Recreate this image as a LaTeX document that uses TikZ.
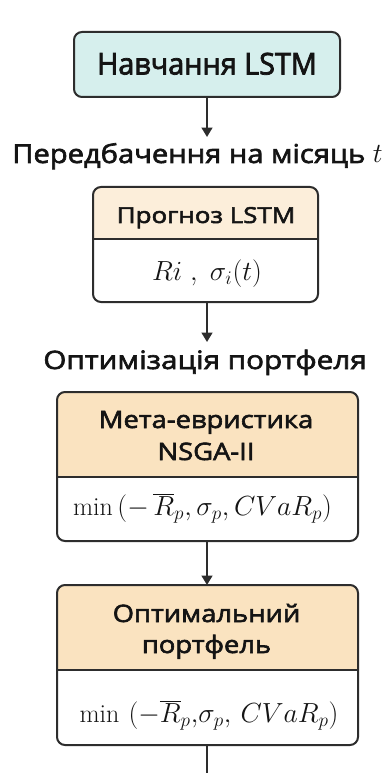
\documentclass[tikz,border=0pt]{standalone}
\usepackage{fontspec}
\usetikzlibrary{arrows.meta}
\newfontfamily\sansA[FakeStretch=0.96,FakeBold=2.5]{Open Sans}
\newfontfamily\sansB[FakeStretch=1.12,FakeBold=2.5]{Open Sans}
\newfontfamily\sansE[FakeStretch=1.17,FakeBold=2.5]{Open Sans}
\newfontfamily\sansC[FakeStretch=1.18,FakeBold=2.5]{Open Sans}
\newfontfamily\sansD[FakeStretch=1.14,FakeBold=2.5]{Open Sans}
\definecolor{cyanfill}{RGB}{214,239,237}
\definecolor{creamfill}{RGB}{252,238,218}
\definecolor{orangefill}{RGB}{250,227,192}
\definecolor{edgecol}{RGB}{45,45,45}
\definecolor{txt}{RGB}{20,20,20}
\begin{document}
\begin{tikzpicture}[x=0.75pt,y=-0.75pt,
  shapebox/.style={draw=edgecol, line width=1.5pt, rounded corners=6pt, inner sep=0pt},
  part/.style={inner sep=0pt, outer sep=0pt},
  bigtxt/.style={font=\sansA\fontsize{22.5}{26}\selectfont, text=txt, anchor=base, inner sep=0pt},
  lbltxt/.style={font=\sansB\fontsize{19.5}{24}\selectfont, text=txt, anchor=base, inner sep=0pt},
  lbltxtb/.style={font=\sansE\fontsize{19}{24}\selectfont, text=txt, anchor=base, inner sep=0pt},
  hdrtxt/.style={font=\sansC\fontsize{16.5}{24}\selectfont, text=txt, anchor=base, inner sep=0pt},
  boxtxt/.style={font=\sansD\fontsize{18}{24}\selectfont, text=txt, anchor=base, inner sep=0pt},
  mathtxt/.style={font=\fontsize{19.5}{23}\selectfont, text=txt, anchor=base, inner sep=0pt},
  conn/.style={draw=edgecol, line width=1.5pt, -{Triangle[width=8pt,length=7pt]}},
  plain/.style={draw=edgecol, line width=1.5pt}]
\useasboundingbox (0,0) rectangle (390,773);
\fill[white] (0,0) rectangle (390,773);

% box 1
\node[shapebox, fill=cyanfill, minimum width=199.5pt, minimum height=48.75pt] (b1) at (207,64.5) {};
\node[bigtxt] (t1) at (207,74.5) {Навчання LSTM};

% label 1
\node[lbltxt] (l1) at (197.5,163) {Передбачення на місяць $t$};

% box 2
\node[part, minimum width=168.75pt, minimum height=39pt] (h2) at (205.5,213) {};
\node[part, minimum width=168.75pt, minimum height=47.25pt, anchor=north] (c2) at (h2.south) {};
\begin{scope}
  \clip[rounded corners=6pt] (h2.north west) rectangle (c2.south east);
  \fill[creamfill] (h2.north west) rectangle (h2.south east);
\end{scope}
\draw[shapebox] (h2.north west) rectangle (c2.south east);
\draw[plain] (h2.south west) -- (h2.south east);
\node[hdrtxt] (t2) at (206,223) {Прогноз LSTM};
\node[mathtxt] (m2) at (207,280.5) {$Ri\ ,\ \sigma_i(t)$};

% label 2
\node[lbltxtb] (l2) at (205,369) {Оптимізація портфеля};

% box 3
\node[part, minimum width=225.75pt, minimum height=63.75pt] (h3) at (207.5,434.5) {};
\node[part, minimum width=225.75pt, minimum height=48pt, anchor=north] (c3) at (h3.south) {};
\begin{scope}
  \clip[rounded corners=6pt] (h3.north west) rectangle (c3.south east);
  \fill[orangefill] (h3.north west) rectangle (h3.south east);
\end{scope}
\draw[shapebox] (h3.north west) rectangle (c3.south east);
\draw[plain] (h3.south west) -- (h3.south east);
\node[boxtxt] (t3a) at (206,428) {Мета-евристика};
\node[boxtxt] (t3b) at (206,460) {NSGA-II};
\node[mathtxt] (m3) at (202.5,515) {$\min\,(-\,\overline{R}_p, \sigma_p, CVaR_p)$};

% box 4
\node[part, minimum width=225.75pt, minimum height=63.75pt] (h4) at (207.5,627.5) {};
\node[part, minimum width=225.75pt, minimum height=56.25pt, anchor=north] (c4) at (h4.south) {};
\begin{scope}
  \clip[rounded corners=6pt] (h4.north west) rectangle (c4.south east);
  \fill[orangefill] (h4.north west) rectangle (h4.south east);
\end{scope}
\draw[shapebox] (h4.north west) rectangle (c4.south east);
\draw[plain] (h4.south west) -- (h4.south east);
\node[boxtxt] (t4a) at (206.5,622) {Оптимальний};
\node[boxtxt] (t4b) at (206.5,653) {портфель};
\node[mathtxt] (m4) at (209,722) {$\min\,\,(-\overline{R}_p{,}\sigma_p,\, CVaR_p)$};

% connectors
\coordinate (e1) at (207,137);
\draw[conn] (b1.south) -- (e1);
\coordinate (e2) at (207,342);
\draw[conn] (c2.south -| b1.south) -- (e2);
\draw[conn] (c3.south -| b1.south) -- (h4.north -| b1.south);
\coordinate (e4) at (207,773);
\draw[plain] (c4.south -| b1.south) -- (e4);
\end{tikzpicture}
\end{document}
